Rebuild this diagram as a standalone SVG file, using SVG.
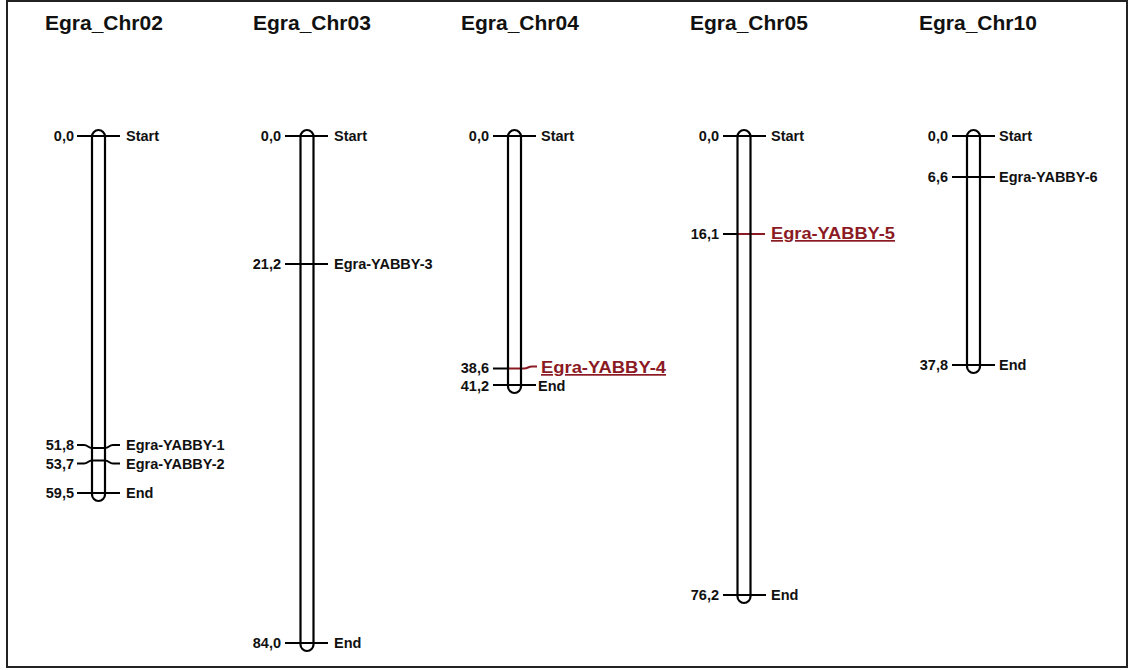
<svg xmlns="http://www.w3.org/2000/svg" width="1128" height="670" viewBox="0 0 1128 670">
<style>
.t{font-family:"Liberation Sans",Arial,sans-serif;font-weight:bold;font-size:21px;fill:#111}
.n{font-family:"Liberation Sans",Arial,sans-serif;font-weight:bold;font-size:14.5px;fill:#111;text-anchor:end}
.l{font-family:"Liberation Sans",Arial,sans-serif;font-weight:bold;font-size:14.5px;fill:#111}
.r{font-family:"Liberation Sans",Arial,sans-serif;font-weight:bold;font-size:17px;fill:#8b1a24;text-decoration:underline}
.tube{fill:none;stroke:#000;stroke-width:2.2}
.m{fill:none;stroke:#000;stroke-width:2}
.mr{fill:none;stroke:#8b1a24;stroke-width:2}
</style>
<rect x="7" y="1" width="1120" height="666" fill="#fff" stroke="#222" stroke-width="2"/>
<g id="connectors">
<path class="m" d="M77,136H120"/>
<path class="m" d="M77,445H84C88,445 88,448 92,448H105C109,448 109,445 113,445H120"/>
<path class="m" d="M77,463.5H84C88,463.5 88,460.5 92,460.5H105C109,460.5 109,463.5 113,463.5H120"/>
<path class="m" d="M77,493H120"/>
<path class="m" d="M285,136H328"/>
<path class="m" d="M285,264H328"/>
<path class="m" d="M285,643H328"/>
<path class="m" d="M493,136H536"/>
<path class="m" d="M493,368.5H508"/>
<path class="mr" d="M508,368.5H524C528,368.5 528,366.5 532,366.5H537"/>
<path class="m" d="M493,385H536"/>
<path class="m" d="M723,136H766"/>
<path class="m" d="M723,234H737"/>
<path class="mr" d="M737,234H765"/>
<path class="m" d="M723,595H766"/>
<path class="m" d="M952,136H995"/>
<path class="m" d="M952,177H995"/>
<path class="m" d="M952,365H995"/>
</g>
<g id="chr02">
<text class="t" x="45" y="30">Egra_Chr02</text>
<rect class="tube" x="92" y="130" width="13" height="371" rx="6.5"/>
<text class="n" x="74" y="141">0,0</text>
<text class="l" x="126" y="141">Start</text>
<text class="n" x="74" y="450">51,8</text>
<text class="l" x="126" y="450">Egra-YABBY-1</text>
<text class="n" x="74" y="468.5">53,7</text>
<text class="l" x="126" y="468.5">Egra-YABBY-2</text>
<text class="n" x="74" y="498">59,5</text>
<text class="l" x="126" y="498">End</text>
</g>
<g id="chr03">
<text class="t" x="253" y="30">Egra_Chr03</text>
<rect class="tube" x="300.5" y="130" width="13" height="521" rx="6.5"/>
<text class="n" x="281" y="141">0,0</text>
<text class="l" x="334" y="141">Start</text>
<text class="n" x="281" y="269">21,2</text>
<text class="l" x="334" y="269">Egra-YABBY-3</text>
<text class="n" x="281" y="648">84,0</text>
<text class="l" x="334" y="648">End</text>
</g>
<g id="chr04">
<text class="t" x="461" y="30">Egra_Chr04</text>
<rect class="tube" x="508" y="130" width="13" height="263" rx="6.5"/>
<text class="n" x="489" y="141">0,0</text>
<text class="l" x="541" y="141">Start</text>
<text class="n" x="489" y="373">38,6</text>
<text class="r" x="541" y="373" textLength="125" lengthAdjust="spacingAndGlyphs">Egra-YABBY-4</text>
<text class="n" x="489" y="391">41,2</text>
<text class="l" x="538" y="391">End</text>
</g>
<g id="chr05">
<text class="t" x="690" y="30">Egra_Chr05</text>
<rect class="tube" x="737.5" y="130" width="13" height="473" rx="6.5"/>
<text class="n" x="719" y="141">0,0</text>
<text class="l" x="771" y="141">Start</text>
<text class="n" x="719" y="239">16,1</text>
<text class="r" x="771" y="239" textLength="124" lengthAdjust="spacingAndGlyphs">Egra-YABBY-5</text>
<text class="n" x="719" y="600">76,2</text>
<text class="l" x="771" y="600">End</text>
</g>
<g id="chr10">
<text class="t" x="919" y="30">Egra_Chr10</text>
<rect class="tube" x="967" y="130" width="13" height="243" rx="6.5"/>
<text class="n" x="948" y="141">0,0</text>
<text class="l" x="999" y="141">Start</text>
<text class="n" x="948" y="182">6,6</text>
<text class="l" x="999" y="182">Egra-YABBY-6</text>
<text class="n" x="948" y="370">37,8</text>
<text class="l" x="999" y="370">End</text>
</g>
</svg>
